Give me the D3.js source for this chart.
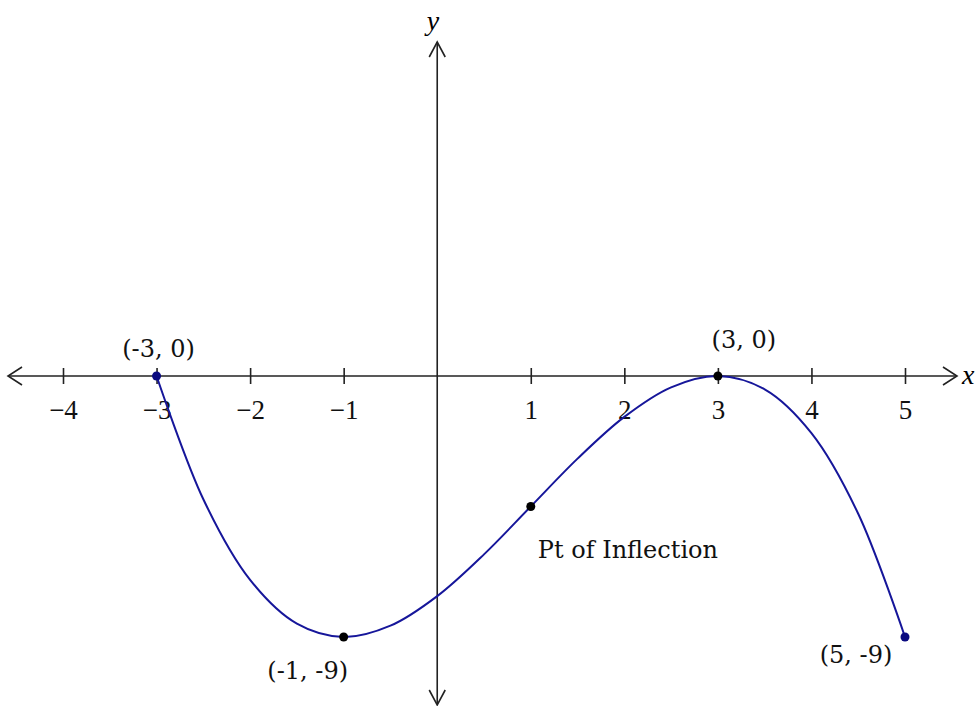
<!DOCTYPE html>
<html><head><meta charset="utf-8">
<script src="https://cdn.jsdelivr.net/npm/d3@7"></script>
<style>body{margin:0;background:#fff}</style>
</head><body>
<svg id="c" width="976" height="706"></svg>
<script>
// Data
const tickValues = [-4, -3, -2, -1, 1, 2, 3, 4, 5];
const curveX = [-3, -2.5, -2, -1.5, -1, -0.5, 0, 0.5, 1, 1.5, 2, 2.5, 3, 3.5, 4, 4.5, 5];
const curveY = [0, -4.25, -7.03, -8.54, -9, -8.61, -7.59, -6.15, -4.5, -2.85, -1.41, -0.39, 0, -0.46, -1.97, -4.75, -9];
const pointX = [-3, -1, 1, 3, 5];
const pointY = [0, -9, -4.5, 0, -9];
const pointLabels = ["(-3, 0)", "(-1, -9)", "Pt of Inflection", "(3, 0)", "(5, -9)"];
const pointColors = ["#0a0a80", "#000", "#000", "#000", "#0a0a80"];

const svg = d3.select("#c");
const x = d3.scaleLinear().domain([-4, 5]).range([63, 905]);
const y = d3.scaleLinear().domain([0, -9]).range([376, 637]);
const serif = "'Liberation Serif', serif";
const labelFont = "'DejaVu Serif', serif";

// axes lines
const ax = svg.append("g").attr("stroke", "#222").attr("stroke-width", 1.6).attr("fill", "none");
ax.append("line").attr("x1", 8).attr("x2", 957).attr("y1", y(0)).attr("y2", y(0));
ax.append("line").attr("x1", x(0)).attr("x2", x(0)).attr("y1", 42).attr("y2", 704);
// arrowheads
ax.append("path").attr("d", `M22,${y(0)-9} L8,${y(0)} L22,${y(0)+9}`);
ax.append("path").attr("d", `M943,${y(0)-9} L957,${y(0)} L943,${y(0)+9}`);
ax.append("path").attr("d", `M${x(0)-8},57 L${x(0)},42 L${x(0)+8},57`);
ax.append("path").attr("d", `M${x(0)-8},690 L${x(0)},705 L${x(0)+8},690`);

// ticks via d3 axis
const xAxis = d3.axisBottom(x).tickValues(tickValues).tickSize(0)
  .tickFormat(d => d < 0 ? "\u2212" + Math.abs(d) : String(d));
const gx = svg.append("g").attr("transform", `translate(0,${y(0)})`).call(xAxis);
gx.select(".domain").remove();
gx.selectAll(".tick line").attr("y1", -8).attr("y2", 8).attr("stroke", "#222").attr("stroke-width", 1.6);
gx.selectAll(".tick text").attr("y", 43).attr("dy", 0)
  .attr("font-family", serif).attr("font-size", 27).attr("fill", "#111");

// curve
const line = d3.line().x(d => x(d[0])).y(d => y(d[1])).curve(d3.curveCatmullRom.alpha(0.5));
svg.append("path").datum(curveX.map((v, i) => [v, curveY[i]]))
  .attr("d", line).attr("fill", "none").attr("stroke", "#16169a").attr("stroke-width", 2);

// points
svg.selectAll("circle.pt").data(pointX).enter().append("circle")
  .attr("cx", d => x(d)).attr("cy", (d, i) => y(pointY[i])).attr("r", 4.5)
  .attr("fill", (d, i) => pointColors[i]);

// labels
const labelPos = [
  {dx: 2, dy: -19, anchor: "middle"},
  {dx: -36, dy: 42, anchor: "middle"},
  {dx: 7, dy: 51, anchor: "start"},
  {dx: 26, dy: -28, anchor: "middle"},
  {dx: -49, dy: 26, anchor: "middle"}
];
svg.selectAll("text.lbl").data(pointLabels).enter().append("text")
  .attr("x", (d, i) => x(pointX[i]) + labelPos[i].dx)
  .attr("y", (d, i) => y(pointY[i]) + labelPos[i].dy)
  .attr("text-anchor", (d, i) => labelPos[i].anchor)
  .attr("font-family", labelFont).attr("font-size", 24).attr("fill", "#111")
  .text(d => d);

// axis names
svg.append("text").attr("x", 433).attr("y", 30).attr("text-anchor", "middle")
  .attr("font-family", serif).attr("font-style", "italic").attr("font-size", 28).text("y");
svg.append("text").attr("x", 962).attr("y", 384)
  .attr("font-family", serif).attr("font-style", "italic").attr("font-size", 28).text("x");
</script>
</body></html>
